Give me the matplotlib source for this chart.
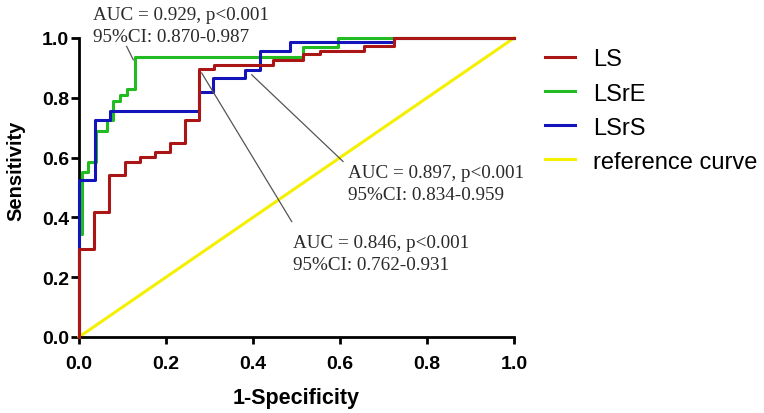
import matplotlib
matplotlib.use("Agg")
import matplotlib.pyplot as plt

# ROC step curves (1-specificity, sensitivity)
ls_x = [0, 0, 0.035, 0.035, 0.07, 0.07, 0.106, 0.106, 0.14, 0.14, 0.175, 0.175,
        0.209, 0.209, 0.244, 0.244, 0.277, 0.277, 0.31, 0.31, 0.447, 0.447,
        0.516, 0.516, 0.554, 0.554, 0.654, 0.654, 0.724, 0.724, 1.0]
ls_y = [0, 0.295, 0.295, 0.418, 0.418, 0.541, 0.541, 0.586, 0.586, 0.603, 0.603, 0.62,
        0.62, 0.648, 0.648, 0.726, 0.726, 0.896, 0.896, 0.911, 0.911, 0.928,
        0.928, 0.945, 0.945, 0.955, 0.955, 0.972, 0.972, 1.0, 1.0]

lsre_x = [0, 0, 0.008, 0.008, 0.02, 0.02, 0.04, 0.04, 0.064, 0.064, 0.079, 0.079,
          0.095, 0.095, 0.11, 0.11, 0.129, 0.129, 0.515, 0.515, 0.595, 0.595, 1.0]
lsre_y = [0, 0.346, 0.346, 0.553, 0.553, 0.586, 0.586, 0.69, 0.69, 0.726, 0.726, 0.79,
          0.79, 0.81, 0.81, 0.83, 0.83, 0.935, 0.935, 0.97, 0.97, 1.0, 1.0]

lsrs_x = [0, 0, 0.037, 0.037, 0.071, 0.071, 0.277, 0.277, 0.309, 0.309, 0.382, 0.382,
          0.415, 0.415, 0.485, 0.485, 0.724, 0.724, 1.0]
lsrs_y = [0, 0.525, 0.525, 0.726, 0.726, 0.757, 0.757, 0.818, 0.818, 0.866, 0.866, 0.894,
          0.894, 0.955, 0.955, 0.985, 0.985, 1.0, 1.0]

ref_x = [0, 1]
ref_y = [0, 1]

labels = ["LS", "LSrE", "LSrS", "reference curve"]
notes = ["AUC = 0.929, p<0.001\n95%CI: 0.870-0.987",
         "AUC = 0.897, p<0.001\n95%CI: 0.834-0.959",
         "AUC = 0.846, p<0.001\n95%CI: 0.762-0.931"]
ticks = [0, 0.2, 0.4, 0.6, 0.8, 1.0]
tick_labels = ["0.0", "0.2", "0.4", "0.6", "0.8", "1.0"]

fig = plt.figure(figsize=(7.64, 4.14), dpi=100)
ax = fig.add_axes([0.1034, 0.1836, 0.5694, 0.7222])

lw = 2.2
ax.plot(ref_x, ref_y, color="#f5f000", lw=lw, label=labels[3], zorder=2, clip_on=False)
ax.plot(lsre_x, lsre_y, color="#22bb22", lw=lw, label=labels[1], zorder=3, clip_on=False)
ax.plot(lsrs_x, lsrs_y, color="#1414bb", lw=lw, label=labels[2], zorder=4, clip_on=False)
ax.plot(ls_x, ls_y, color="#aa1515", lw=lw, label=labels[0], zorder=5, clip_on=False)

ax.set_xlim(0, 1)
ax.set_ylim(0, 1)
ax.set_xticks(ticks)
ax.set_yticks(ticks)
ax.set_xticklabels(tick_labels)
ax.set_yticklabels(tick_labels)
for s in ["top", "right"]:
    ax.spines[s].set_visible(False)
for s in ["left", "bottom"]:
    ax.spines[s].set_linewidth(2)
ax.tick_params(axis="x", width=2, length=5, direction="out", labelsize=14, pad=8)
ax.tick_params(axis="y", width=2, length=6, direction="out", labelsize=14, pad=1)
for t in ax.get_xticklabels() + ax.get_yticklabels():
    t.set_fontfamily("Liberation Sans")
    t.set_fontweight("bold")
ax.set_xlabel("1-Specificity", fontsize=15.5, fontweight="bold", family="Liberation Sans",
              labelpad=11)
ax.set_ylabel("Sensitivity", fontsize=14.5, fontweight="bold", family="Liberation Sans")
ax.yaxis.set_label_coords(-0.124, 0.56)

# annotations with leader lines (y = baseline of the second line)
tf = dict(family="Liberation Serif", fontsize=13.8, color="#2a2a2a", linespacing=1.35,
          va="baseline", ha="left", clip_on=False)
ax.text(0.032, 0.990, notes[0], **tf)
ax.text(0.618, 0.463, notes[1], **tf)
ax.text(0.492, 0.228, notes[2], **tf)
lc = dict(color="#555555", lw=0.9, clip_on=False, zorder=6)
ax.plot([0.1095, 0.1248], [0.972, 0.927], **lc)
ax.plot([0.397, 0.607], [0.877, 0.587], **lc)
ax.plot([0.282, 0.489], [0.883, 0.386], **lc)

h, l = ax.get_legend_handles_labels()
order = [3, 1, 2, 0]
leg = ax.legend([h[i] for i in order], [l[i] for i in order], loc="upper left",
                bbox_to_anchor=(1.071, 0.965), frameon=False, borderaxespad=0, borderpad=0,
                prop={"family": "Liberation Sans", "size": 17},
                handlelength=1.27, handletextpad=0.76, labelspacing=0.51)

fig.savefig("out.png", dpi=100)
